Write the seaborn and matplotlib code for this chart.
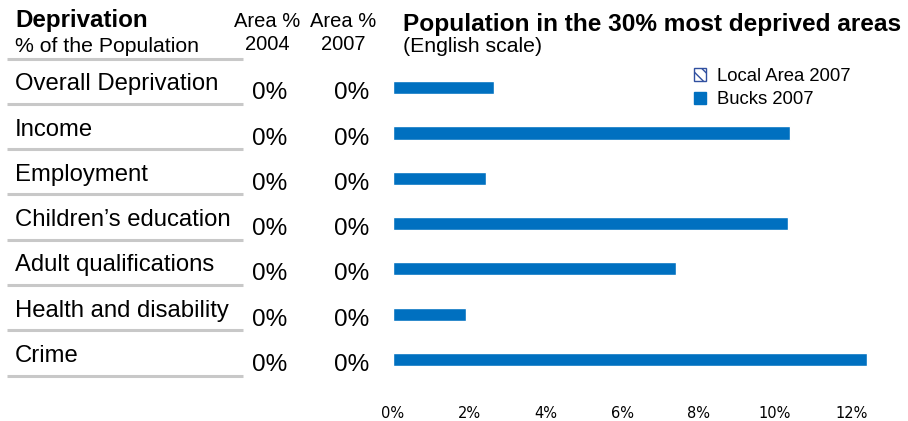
import pandas as pd
import matplotlib.pyplot as plt
import matplotlib.patches as mpatches
import matplotlib.transforms as mtransforms
import seaborn as sns

# Data
domains = ["Overall Deprivation", "Income", "Employment", "Children\u2019s education",
           "Adult qualifications", "Health and disability", "Crime"]
area_2004 = [0, 0, 0, 0, 0, 0, 0]
area_2007 = [0, 0, 0, 0, 0, 0, 0]
local_2007 = [0, 0, 0, 0, 0, 0, 0]
bucks_2007 = [2.65, 10.39, 2.43, 10.34, 7.41, 1.91, 12.41]
xticks = [0, 2, 4, 6, 8, 10, 12]

df = pd.DataFrame({
    "domain": domains * 2,
    "series": ["Local Area 2007"] * len(domains) + ["Bucks 2007"] * len(domains),
    "value": local_2007 + bucks_2007,
})

blue = "#0070C0"
sns.set_style("white")
plt.rcParams["font.family"] = ["Liberation Sans", "DejaVu Sans"]
plt.rcParams["text.color"] = "black"
plt.rcParams["xtick.color"] = "black"

# Set figure
fig = plt.figure(figsize=(9.08, 4.21), dpi=100)
ax = fig.add_axes([0.4328, 0.108, 0.53, 0.753])
sns.barplot(data=df, y="domain", x="value", hue="series", order=domains,
            hue_order=["Local Area 2007", "Bucks 2007"], orient="h",
            palette=["white", blue], saturation=1, width=0.58, ax=ax, legend=False)
for bar in ax.patches[:len(domains)]:
    bar.set_hatch("\\\\")
    bar.set_linewidth(0)

ax.set_xlim(0, 12.6)
ax.set_ylim(len(domains) - 0.5, -0.5)
ax.set_xticks(xticks)
ax.set_xticklabels([f"{t}%" for t in xticks], fontsize=10.5, family="DejaVu Sans")
ax.set_yticks([])
ax.set(xlabel="", ylabel="")
ax.tick_params(axis="x", length=0, pad=22)
sns.despine(ax=ax, left=True, bottom=True)

# Left-hand table
tr = mtransforms.blended_transform_factory(fig.transFigure, ax.transData)
for i, name in enumerate(domains):
    fig.text(15 / 908, i + 0.2, name, transform=tr, fontsize=17.2, va="baseline")
    fig.text(270 / 908, i + 0.4, f"{area_2004[i]}%", transform=tr, fontsize=17.5,
             va="baseline", ha="center")
    fig.text(352 / 908, i + 0.4, f"{area_2007[i]}%", transform=tr, fontsize=17.5,
             va="baseline", ha="center")
for i in range(len(domains) + 1):
    ax.plot([7 / 908, 243 / 908], [i - 0.5, i - 0.5], transform=tr, color="#c8c8c8",
            lw=2.2, clip_on=False, solid_capstyle="butt")

# Headers
fig.text(15 / 908, 1 - 27 / 421, "Deprivation", fontsize=17.4, fontweight="bold")
fig.text(15 / 908, 1 - 52 / 421, "% of the Population", fontsize=15.3)
fig.text(267 / 908, 1 - 27 / 421, "Area %", fontsize=14.5, ha="center")
fig.text(267 / 908, 1 - 50 / 421, "2004", fontsize=14.5, ha="center")
fig.text(343 / 908, 1 - 27 / 421, "Area %", fontsize=14.5, ha="center")
fig.text(343 / 908, 1 - 50 / 421, "2007", fontsize=14.5, ha="center")
fig.text(403 / 908, 1 - 31 / 421, "Population in the 30% most deprived areas",
         fontsize=17.6, fontweight="bold")
fig.text(403 / 908, 1 - 52 / 421, "(English scale)", fontsize=15.3)

# Legend
handles = [mpatches.Patch(facecolor="white", edgecolor="#3050a0", hatch="\\\\\\",
                          label="Local Area 2007"),
           mpatches.Patch(facecolor=blue, edgecolor=blue, label="Bucks 2007")]
fig.legend(handles=handles, loc="upper left", bbox_to_anchor=(694 / 908, 1 - 68 / 421),
           frameon=False, fontsize=13.3, handlelength=0.65, handleheight=0.65,
           handletextpad=0.6, labelspacing=0.35, borderaxespad=0, borderpad=0)

fig.savefig("out.png", dpi=100)
